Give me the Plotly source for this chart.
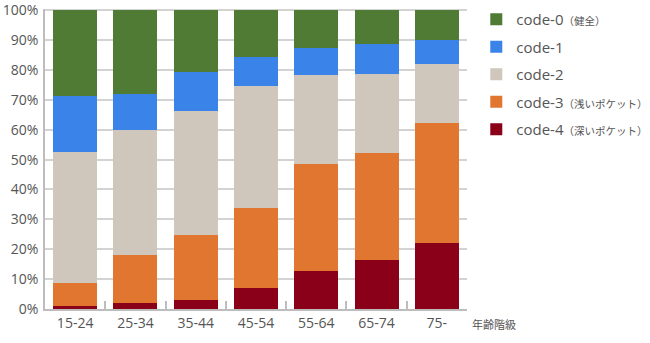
import plotly.graph_objects as go

categories = ["15-24", "25-34", "35-44", "45-54", "55-64", "65-74", "75-"]
code4 = [1.1, 2.1, 3.1, 7.1, 12.8, 16.3, 22.0]
code3 = [7.7, 16.0, 21.8, 26.7, 35.8, 36.0, 40.1]
code2 = [43.8, 41.9, 41.5, 40.8, 29.8, 26.3, 19.8]
code1 = [18.7, 12.0, 12.9, 9.7, 8.9, 10.2, 8.2]
code0 = [28.7, 28.0, 20.7, 15.7, 12.7, 11.2, 9.9]
ytick_vals = [0, 10, 20, 30, 40, 50, 60, 70, 80, 90, 100]

series = [
    ("code-4<span style='font-size:10.5px'>（深いポケット）</span>", code4, "#8a0019", 5),
    ("code-3<span style='font-size:10.5px'>（浅いポケット）</span>", code3, "#e0762f", 4),
    ("code-2", code2, "#cfc6bc", 3),
    ("code-1", code1, "#3a83e9", 2),
    ("code-0<span style='font-size:10.5px'>（健全）</span>", code0, "#4f7b34", 1),
]

fig = go.Figure()
for i, (name, vals, color, rank) in enumerate(series):
    fig.add_trace(go.Bar(
        x=categories, y=vals, name=name, marker_color=color,
        marker_line_width=0, legendgroup=str(i), legendrank=rank,
    ))

font_family = "Open Sans, Noto Sans CJK JP, sans-serif"
fig.update_layout(
    width=650, height=343,
    margin=dict(l=45, r=183, t=9, b=34, autoexpand=False),
    barmode="stack", bargap=0.27,
    plot_bgcolor="white", paper_bgcolor="white",
    font=dict(family=font_family, size=14, color="#555555"),
    showlegend=True,
    legend=dict(
        x=1.022, y=1.02, xanchor="left", yanchor="top",
        traceorder="grouped", tracegroupgap=5,
        font=dict(size=15, color="#555555"),
        bgcolor="rgba(0,0,0,0)",
    ),
    xaxis=dict(
        showline=True, linecolor="#bdbdbd", linewidth=1.5,
        ticks="inside", ticklen=8, tickcolor="#bdbdbd", tickwidth=1.5,
        tickson="boundaries", showgrid=False,
        tickfont=dict(size=14, color="#555555"),
    ),
    yaxis=dict(
        range=[0, 100.4], tickvals=ytick_vals,
        ticktext=[f"{v}%" for v in ytick_vals],
        showline=True, linecolor="#bdbdbd", linewidth=1.5,
        gridcolor="#d3d3d3", gridwidth=1.5,
        tickfont=dict(size=14, color="#555555"),
        ticklabelstandoff=2, zeroline=False, ticklabeloverflow="allow",
    ),
)
fig.add_annotation(
    text="年齢階級", xref="paper", yref="paper", x=1, y=0,
    xanchor="left", yanchor="top", xshift=3, yshift=-6,
    showarrow=False, font=dict(size=11, color="#555555"),
)
fig.write_html("out.html")
